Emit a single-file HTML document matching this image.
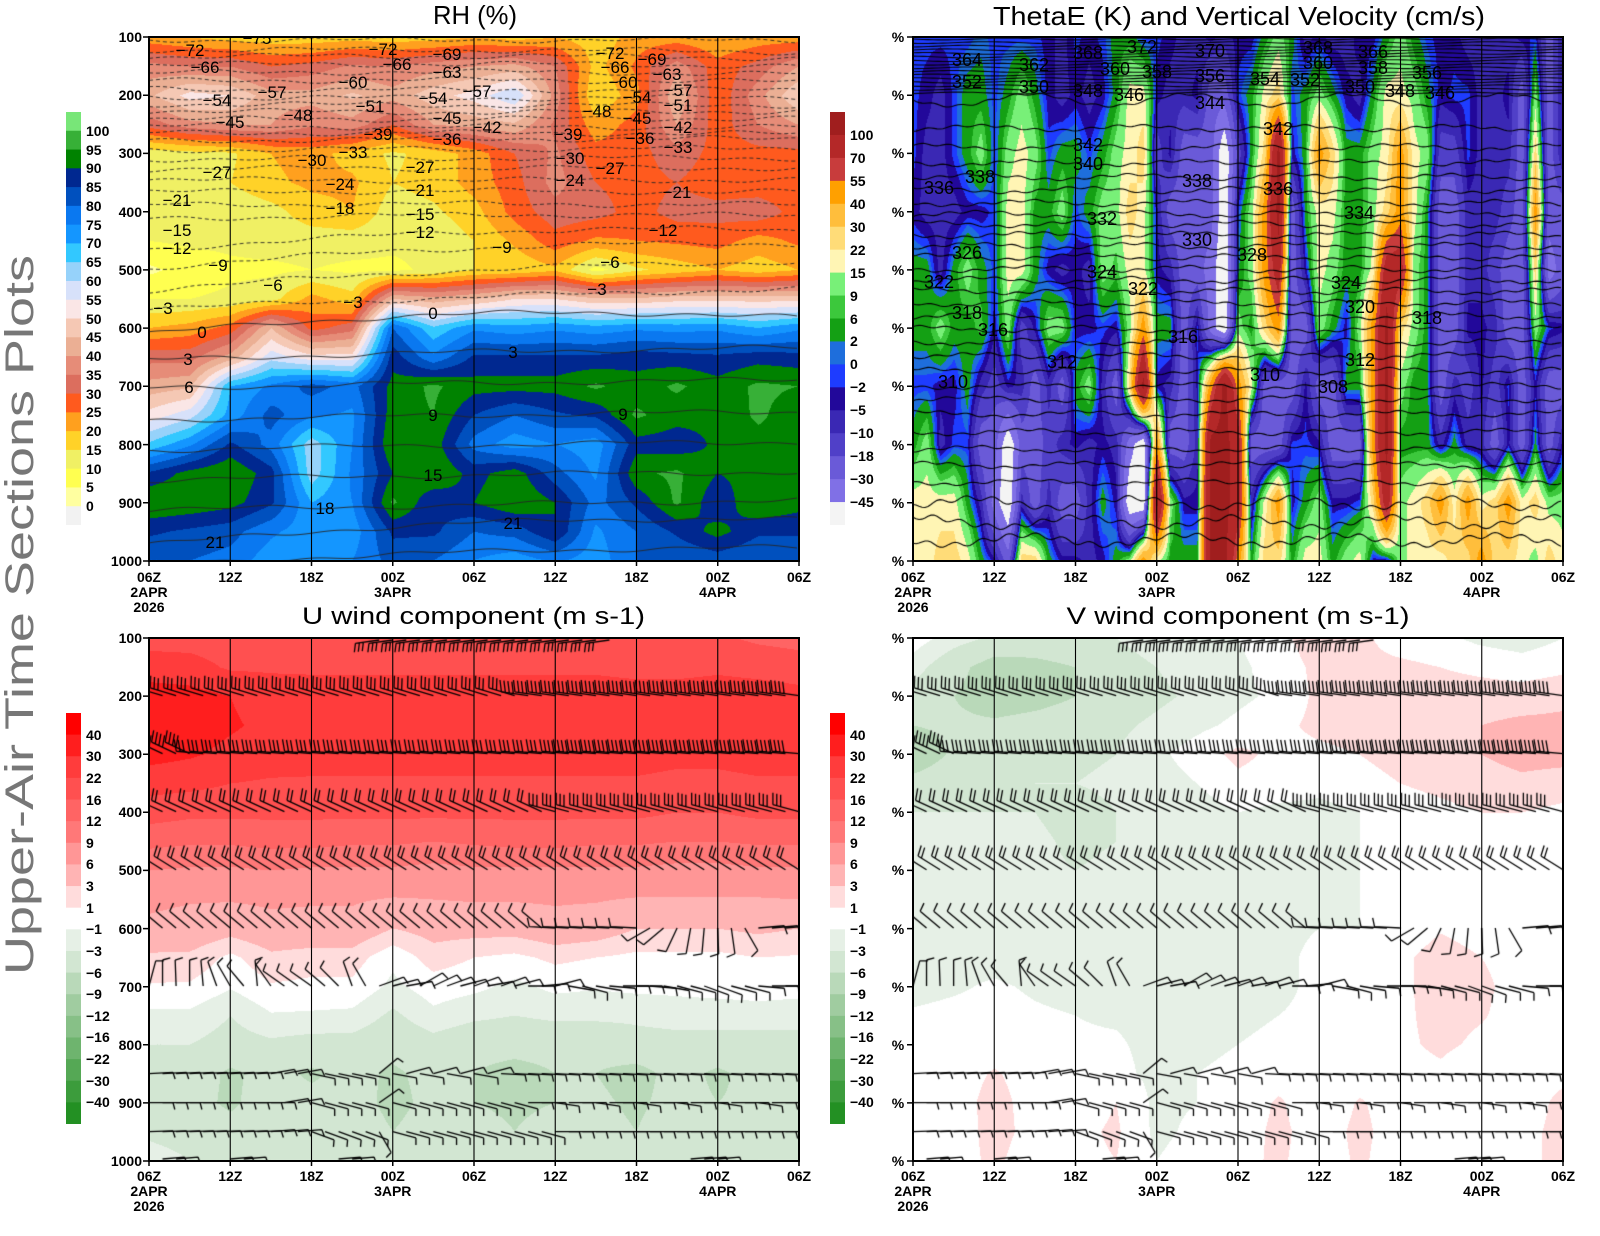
<!DOCTYPE html>
<html><head><meta charset="utf-8">
<style>
html,body{margin:0;padding:0;background:#fff}
body{width:1600px;height:1236px;position:relative;overflow:hidden;font-family:"Liberation Sans",Arial,sans-serif}
canvas{position:absolute;display:block}
svg{position:absolute;left:0;top:0}
.ax{font-family:"Liberation Sans",Arial,sans-serif;font-weight:bold;font-size:14px;fill:#000}
.cl{font-family:"Liberation Sans",Arial,sans-serif;font-size:17px;fill:#000}
.tl{font-family:"Liberation Sans",Arial,sans-serif;font-size:18px;fill:#000}
.tt{font-family:"Liberation Sans",Arial,sans-serif;fill:#000}
</style></head><body>
<canvas id="c1" width="650" height="524" style="left:149px;top:37px;background:linear-gradient(180deg,#ffa01e 0%,#e68c78 6%,#f5c8b4 11%,#e68c78 17%,#ff5a1e 22%,#ffd228 28%,#f0f064 42%,#ffd228 50%,#ff5a1e 54%,#1496ff 58%,#002890 63%,#008200 68%,#0050be 82%,#0a78f0 100%)"></canvas>
<canvas id="c2" width="650" height="524" style="left:913px;top:37px;background:#3a28b4"></canvas>
<canvas id="c3" width="650" height="523" style="left:149px;top:638px;background:linear-gradient(180deg,#ff5050 0%,#ff3c3c 12%,#ff3c3c 35%,#ff6464 42%,#ff9696 52%,#ffb4b4 58%,#ffdcdc 65%,#ffffff 70%,#e6f0e6 75%,#d2e6d2 85%,#e6f0e6 100%)"></canvas>
<canvas id="c4" width="650" height="523" style="left:913px;top:638px;background:#e6f0e6"></canvas>
<svg width="1600" height="1236" viewBox="0 0 1600 1236">
<defs><clipPath id="cp1"><rect x="149" y="37" width="650" height="524"/></clipPath></defs>
<g stroke="#000" stroke-width="1.1">
<line x1="230.25" y1="37" x2="230.25" y2="561"/><line x1="311.5" y1="37" x2="311.5" y2="561"/><line x1="392.75" y1="37" x2="392.75" y2="561"/><line x1="474" y1="37" x2="474" y2="561"/><line x1="555.25" y1="37" x2="555.25" y2="561"/><line x1="636.5" y1="37" x2="636.5" y2="561"/><line x1="717.75" y1="37" x2="717.75" y2="561"/>
<line x1="994.25" y1="37" x2="994.25" y2="561"/><line x1="1075.5" y1="37" x2="1075.5" y2="561"/><line x1="1156.75" y1="37" x2="1156.75" y2="561"/><line x1="1238" y1="37" x2="1238" y2="561"/><line x1="1319.25" y1="37" x2="1319.25" y2="561"/><line x1="1400.5" y1="37" x2="1400.5" y2="561"/><line x1="1481.75" y1="37" x2="1481.75" y2="561"/>
<line x1="230.25" y1="638" x2="230.25" y2="1161"/><line x1="311.5" y1="638" x2="311.5" y2="1161"/><line x1="392.75" y1="638" x2="392.75" y2="1161"/><line x1="474" y1="638" x2="474" y2="1161"/><line x1="555.25" y1="638" x2="555.25" y2="1161"/><line x1="636.5" y1="638" x2="636.5" y2="1161"/><line x1="717.75" y1="638" x2="717.75" y2="1161"/>
<line x1="994.25" y1="638" x2="994.25" y2="1161"/><line x1="1075.5" y1="638" x2="1075.5" y2="1161"/><line x1="1156.75" y1="638" x2="1156.75" y2="1161"/><line x1="1238" y1="638" x2="1238" y2="1161"/><line x1="1319.25" y1="638" x2="1319.25" y2="1161"/><line x1="1400.5" y1="638" x2="1400.5" y2="1161"/><line x1="1481.75" y1="638" x2="1481.75" y2="1161"/>
</g>
<g fill="none" stroke="#000" stroke-width="2">
<rect x="149" y="37" width="650" height="524"/><rect x="913" y="37" width="650" height="524"/>
<rect x="149" y="638" width="650" height="523"/><rect x="913" y="638" width="650" height="523"/>
</g>
<g stroke="#000" stroke-width="1.5">
<path d="M143 37H149M143 95.2H149M143 153.4H149M143 211.7H149M143 269.9H149M143 328.1H149M143 386.3H149M143 444.6H149M143 502.8H149M143 561H149"/>
<path d="M907 37H913M907 95.2H913M907 153.4H913M907 211.7H913M907 269.9H913M907 328.1H913M907 386.3H913M907 444.6H913M907 502.8H913M907 561H913"/>
<path d="M143 638H149M143 696.1H149M143 754.2H149M143 812.3H149M143 870.4H149M143 928.6H149M143 986.7H149M143 1044.8H149M143 1102.9H149M143 1161H149"/>
<path d="M907 638H913M907 696.1H913M907 754.2H913M907 812.3H913M907 870.4H913M907 928.6H913M907 986.7H913M907 1044.8H913M907 1102.9H913M907 1161H913"/>
<path d="M149 561V566M230.25 561V566M311.5 561V566M392.75 561V566M474 561V566M555.25 561V566M636.5 561V566M717.75 561V566M799 561V566"/>
<path d="M913 561V566M994.25 561V566M1075.5 561V566M1156.75 561V566M1238 561V566M1319.25 561V566M1400.5 561V566M1481.75 561V566M1563 561V566"/>
<path d="M149 1161V1166M230.25 1161V1166M311.5 1161V1166M392.75 1161V1166M474 1161V1166M555.25 1161V1166M636.5 1161V1166M717.75 1161V1166M799 1161V1166"/>
<path d="M913 1161V1166M994.25 1161V1166M1075.5 1161V1166M1156.75 1161V1166M1238 1161V1166M1319.25 1161V1166M1400.5 1161V1166M1481.75 1161V1166M1563 1161V1166"/>
</g>
<g class="ax" text-anchor="end">
<text x="142" y="42">100</text><text x="142" y="100">200</text><text x="142" y="158">300</text><text x="142" y="217">400</text><text x="142" y="275">500</text><text x="142" y="333">600</text><text x="142" y="391">700</text><text x="142" y="450">800</text><text x="142" y="508">900</text><text x="142" y="566">1000</text>
<text x="142" y="643">100</text><text x="142" y="701">200</text><text x="142" y="759">300</text><text x="142" y="817">400</text><text x="142" y="875">500</text><text x="142" y="934">600</text><text x="142" y="992">700</text><text x="142" y="1050">800</text><text x="142" y="1108">900</text><text x="142" y="1166">1000</text>
</g>
<g class="ax" text-anchor="middle">
<text x="898" y="42">%</text><text x="898" y="100">%</text><text x="898" y="158">%</text><text x="898" y="217">%</text><text x="898" y="275">%</text><text x="898" y="333">%</text><text x="898" y="391">%</text><text x="898" y="450">%</text><text x="898" y="508">%</text><text x="898" y="566">%</text>
<text x="898" y="643">%</text><text x="898" y="701">%</text><text x="898" y="759">%</text><text x="898" y="817">%</text><text x="898" y="875">%</text><text x="898" y="934">%</text><text x="898" y="992">%</text><text x="898" y="1050">%</text><text x="898" y="1108">%</text><text x="898" y="1166">%</text>
</g>
<g class="ax" text-anchor="middle">
<text x="149" y="582">06Z</text><text x="230.25" y="582">12Z</text><text x="311.5" y="582">18Z</text><text x="392.75" y="582">00Z</text><text x="474" y="582">06Z</text><text x="555.25" y="582">12Z</text><text x="636.5" y="582">18Z</text><text x="717.75" y="582">00Z</text><text x="799" y="582">06Z</text>
<text x="149" y="597">2APR</text><text x="149" y="612">2026</text><text x="392.75" y="597">3APR</text><text x="717.75" y="597">4APR</text>
<text x="913" y="582">06Z</text><text x="994.25" y="582">12Z</text><text x="1075.5" y="582">18Z</text><text x="1156.75" y="582">00Z</text><text x="1238" y="582">06Z</text><text x="1319.25" y="582">12Z</text><text x="1400.5" y="582">18Z</text><text x="1481.75" y="582">00Z</text><text x="1563" y="582">06Z</text>
<text x="913" y="597">2APR</text><text x="913" y="612">2026</text><text x="1156.75" y="597">3APR</text><text x="1481.75" y="597">4APR</text>
<text x="149" y="1181">06Z</text><text x="230.25" y="1181">12Z</text><text x="311.5" y="1181">18Z</text><text x="392.75" y="1181">00Z</text><text x="474" y="1181">06Z</text><text x="555.25" y="1181">12Z</text><text x="636.5" y="1181">18Z</text><text x="717.75" y="1181">00Z</text><text x="799" y="1181">06Z</text>
<text x="149" y="1196">2APR</text><text x="149" y="1211">2026</text><text x="392.75" y="1196">3APR</text><text x="717.75" y="1196">4APR</text>
<text x="913" y="1181">06Z</text><text x="994.25" y="1181">12Z</text><text x="1075.5" y="1181">18Z</text><text x="1156.75" y="1181">00Z</text><text x="1238" y="1181">06Z</text><text x="1319.25" y="1181">12Z</text><text x="1400.5" y="1181">18Z</text><text x="1481.75" y="1181">00Z</text><text x="1563" y="1181">06Z</text>
<text x="913" y="1196">2APR</text><text x="913" y="1211">2026</text><text x="1156.75" y="1196">3APR</text><text x="1481.75" y="1196">4APR</text>
</g>
<text class="tt" x="475" y="24" font-size="26" text-anchor="middle" textLength="84" lengthAdjust="spacingAndGlyphs">RH (%)</text>
<text class="tt" x="1239" y="25" font-size="26" text-anchor="middle" textLength="492" lengthAdjust="spacingAndGlyphs">ThetaE (K) and Vertical Velocity (cm/s)</text>
<text class="tt" x="473.5" y="624" font-size="24" text-anchor="middle" textLength="343" lengthAdjust="spacingAndGlyphs">U wind component (m s-1)</text>
<text class="tt" x="1238" y="624" font-size="24" text-anchor="middle" textLength="343" lengthAdjust="spacingAndGlyphs">V wind component (m s-1)</text>
<text class="tt" transform="translate(33,975) rotate(-90)" x="0" y="0" font-size="40" fill="#777" style="fill:#777" textLength="720" lengthAdjust="spacingAndGlyphs">Upper-Air Time Sections Plots</text>
<g>
<rect x="66" y="112" width="15" height="19.3" fill="#78e678"/><rect x="66" y="130.77" width="15" height="19.3" fill="#37b037"/><rect x="66" y="149.55" width="15" height="19.3" fill="#008200"/><rect x="66" y="168.32" width="15" height="19.3" fill="#002890"/><rect x="66" y="187.09" width="15" height="19.3" fill="#0050be"/><rect x="66" y="205.86" width="15" height="19.3" fill="#0a78f0"/><rect x="66" y="224.64" width="15" height="19.3" fill="#1496ff"/><rect x="66" y="243.41" width="15" height="19.3" fill="#32c8ff"/><rect x="66" y="262.18" width="15" height="19.3" fill="#96d2fa"/><rect x="66" y="280.95" width="15" height="19.3" fill="#d7e1fa"/><rect x="66" y="299.73" width="15" height="19.3" fill="#fae6e6"/><rect x="66" y="318.5" width="15" height="19.3" fill="#f5c8b4"/><rect x="66" y="337.27" width="15" height="19.3" fill="#ebaf94"/><rect x="66" y="356.05" width="15" height="19.3" fill="#e68c78"/><rect x="66" y="374.82" width="15" height="19.3" fill="#dc6e5e"/><rect x="66" y="393.59" width="15" height="19.3" fill="#ff5a1e"/><rect x="66" y="412.36" width="15" height="19.3" fill="#ffa01e"/><rect x="66" y="431.14" width="15" height="19.3" fill="#ffd228"/><rect x="66" y="449.91" width="15" height="19.3" fill="#f0f064"/><rect x="66" y="468.68" width="15" height="19.3" fill="#ffff50"/><rect x="66" y="487.45" width="15" height="19.3" fill="#ffffa0"/><rect x="66" y="506.23" width="15" height="18.8" fill="#f2f2f2"/>
</g>
<g class="ax">
<text x="86" y="136">100</text><text x="86" y="155">95</text><text x="86" y="173">90</text><text x="86" y="192">85</text><text x="86" y="211">80</text><text x="86" y="230">75</text><text x="86" y="248">70</text><text x="86" y="267">65</text><text x="86" y="286">60</text><text x="86" y="305">55</text><text x="86" y="324">50</text><text x="86" y="342">45</text><text x="86" y="361">40</text><text x="86" y="380">35</text><text x="86" y="399">30</text><text x="86" y="417">25</text><text x="86" y="436">20</text><text x="86" y="455">15</text><text x="86" y="474">10</text><text x="86" y="492">5</text><text x="86" y="511">0</text>
</g>
<g>
<rect x="830" y="112" width="15" height="23.4" fill="#a01e1e"/><rect x="830" y="134.94" width="15" height="23.4" fill="#b42828"/><rect x="830" y="157.89" width="15" height="23.4" fill="#c83c3c"/><rect x="830" y="180.83" width="15" height="23.4" fill="#ffa000"/><rect x="830" y="203.78" width="15" height="23.4" fill="#ffbe3c"/><rect x="830" y="226.72" width="15" height="23.4" fill="#ffdc78"/><rect x="830" y="249.67" width="15" height="23.4" fill="#fff5b4"/><rect x="830" y="272.61" width="15" height="23.4" fill="#78f078"/><rect x="830" y="295.56" width="15" height="23.4" fill="#3cc83c"/><rect x="830" y="318.5" width="15" height="23.4" fill="#14a014"/><rect x="830" y="341.44" width="15" height="23.4" fill="#1e6edc"/><rect x="830" y="364.39" width="15" height="23.4" fill="#1e3cff"/><rect x="830" y="387.33" width="15" height="23.4" fill="#22089a"/><rect x="830" y="410.28" width="15" height="23.4" fill="#3a28b4"/><rect x="830" y="433.22" width="15" height="23.4" fill="#5040c8"/><rect x="830" y="456.17" width="15" height="23.4" fill="#6a5ad8"/><rect x="830" y="479.11" width="15" height="23.4" fill="#8070e6"/><rect x="830" y="502.06" width="15" height="22.94" fill="#f4f4f4"/>
</g>
<g class="ax">
<text x="850" y="140">100</text><text x="850" y="163">70</text><text x="850" y="186">55</text><text x="850" y="209">40</text><text x="850" y="232">30</text><text x="850" y="255">22</text><text x="850" y="278">15</text><text x="850" y="301">9</text><text x="850" y="324">6</text><text x="850" y="346">2</text><text x="850" y="369">0</text><text x="850" y="392">−2</text><text x="850" y="415">−5</text><text x="850" y="438">−10</text><text x="850" y="461">−18</text><text x="850" y="484">−30</text><text x="850" y="507">−45</text>
</g>
<g>
<rect x="66" y="713" width="15" height="22.1" fill="#ff0000"/><rect x="66" y="734.63" width="15" height="22.1" fill="#ff1e1e"/><rect x="66" y="756.26" width="15" height="22.1" fill="#ff3c3c"/><rect x="66" y="777.9" width="15" height="22.1" fill="#ff5050"/><rect x="66" y="799.53" width="15" height="22.1" fill="#ff6464"/><rect x="66" y="821.16" width="15" height="22.1" fill="#ff7878"/><rect x="66" y="842.79" width="15" height="22.1" fill="#ff9696"/><rect x="66" y="864.42" width="15" height="22.1" fill="#ffb4b4"/><rect x="66" y="886.06" width="15" height="22.1" fill="#ffdcdc"/><rect x="66" y="907.69" width="15" height="22.1" fill="#ffffff"/><rect x="66" y="929.32" width="15" height="22.1" fill="#e6f0e6"/><rect x="66" y="950.95" width="15" height="22.1" fill="#d2e6d2"/><rect x="66" y="972.58" width="15" height="22.1" fill="#b9d9b9"/><rect x="66" y="994.22" width="15" height="22.1" fill="#a0cca0"/><rect x="66" y="1015.85" width="15" height="22.1" fill="#87c087"/><rect x="66" y="1037.48" width="15" height="22.1" fill="#6eb46e"/><rect x="66" y="1059.11" width="15" height="22.1" fill="#55a855"/><rect x="66" y="1080.74" width="15" height="22.1" fill="#3c9c3c"/><rect x="66" y="1102.38" width="15" height="21.62" fill="#239023"/>
</g>
<g class="ax">
<text x="86" y="740">40</text><text x="86" y="761">30</text><text x="86" y="783">22</text><text x="86" y="805">16</text><text x="86" y="826">12</text><text x="86" y="848">9</text><text x="86" y="869">6</text><text x="86" y="891">3</text><text x="86" y="913">1</text><text x="86" y="934">−1</text><text x="86" y="956">−3</text><text x="86" y="978">−6</text><text x="86" y="999">−9</text><text x="86" y="1021">−12</text><text x="86" y="1042">−16</text><text x="86" y="1064">−22</text><text x="86" y="1086">−30</text><text x="86" y="1107">−40</text>
</g>
<g>
<rect x="830" y="713" width="15" height="22.1" fill="#ff0000"/><rect x="830" y="734.63" width="15" height="22.1" fill="#ff1e1e"/><rect x="830" y="756.26" width="15" height="22.1" fill="#ff3c3c"/><rect x="830" y="777.9" width="15" height="22.1" fill="#ff5050"/><rect x="830" y="799.53" width="15" height="22.1" fill="#ff6464"/><rect x="830" y="821.16" width="15" height="22.1" fill="#ff7878"/><rect x="830" y="842.79" width="15" height="22.1" fill="#ff9696"/><rect x="830" y="864.42" width="15" height="22.1" fill="#ffb4b4"/><rect x="830" y="886.06" width="15" height="22.1" fill="#ffdcdc"/><rect x="830" y="907.69" width="15" height="22.1" fill="#ffffff"/><rect x="830" y="929.32" width="15" height="22.1" fill="#e6f0e6"/><rect x="830" y="950.95" width="15" height="22.1" fill="#d2e6d2"/><rect x="830" y="972.58" width="15" height="22.1" fill="#b9d9b9"/><rect x="830" y="994.22" width="15" height="22.1" fill="#a0cca0"/><rect x="830" y="1015.85" width="15" height="22.1" fill="#87c087"/><rect x="830" y="1037.48" width="15" height="22.1" fill="#6eb46e"/><rect x="830" y="1059.11" width="15" height="22.1" fill="#55a855"/><rect x="830" y="1080.74" width="15" height="22.1" fill="#3c9c3c"/><rect x="830" y="1102.38" width="15" height="21.62" fill="#239023"/>
</g>
<g class="ax">
<text x="850" y="740">40</text><text x="850" y="761">30</text><text x="850" y="783">22</text><text x="850" y="805">16</text><text x="850" y="826">12</text><text x="850" y="848">9</text><text x="850" y="869">6</text><text x="850" y="891">3</text><text x="850" y="913">1</text><text x="850" y="934">−1</text><text x="850" y="956">−3</text><text x="850" y="978">−6</text><text x="850" y="999">−9</text><text x="850" y="1021">−12</text><text x="850" y="1042">−16</text><text x="850" y="1064">−22</text><text x="850" y="1086">−30</text><text x="850" y="1107">−40</text>
</g>
<g class="cl" text-anchor="middle">
<text x="257" y="44" clip-path="url(#cp1)">−75</text>
<text x="190" y="56">−72</text><text x="205" y="73">−66</text><text x="217" y="106">−54</text><text x="272" y="98">−57</text><text x="230" y="128">−45</text><text x="298" y="121">−48</text><text x="353" y="88">−60</text><text x="370" y="112">−51</text><text x="383" y="55">−72</text><text x="397" y="70">−66</text><text x="378" y="140">−39</text><text x="353" y="158">−33</text><text x="312" y="166">−30</text><text x="217" y="178">−27</text><text x="340" y="190">−24</text><text x="177" y="206">−21</text><text x="340" y="214">−18</text><text x="177" y="236">−15</text><text x="177" y="254">−12</text><text x="218" y="271">−9</text><text x="273" y="291">−6</text><text x="163" y="314">−3</text><text x="353" y="308">−3</text><text x="202" y="338">0</text><text x="188" y="365">3</text><text x="189" y="393">6</text><text x="325" y="514">18</text><text x="215" y="548">21</text>
<text x="447" y="60">−69</text><text x="447" y="78">−63</text><text x="433" y="104">−54</text><text x="477" y="97">−57</text><text x="447" y="124">−45</text><text x="447" y="145">−36</text><text x="487" y="133">−42</text><text x="420" y="173">−27</text><text x="420" y="196">−21</text><text x="420" y="220">−15</text><text x="420" y="238">−12</text><text x="502" y="253">−9</text><text x="433" y="319">0</text><text x="513" y="358">3</text><text x="433" y="421">9</text><text x="433" y="481">15</text><text x="513" y="529">21</text>
<text x="610" y="59">−72</text><text x="615" y="73">−66</text><text x="623" y="88">−60</text><text x="637" y="103">−54</text><text x="597" y="117">−48</text><text x="637" y="124">−45</text><text x="568" y="140">−39</text><text x="640" y="144">−36</text><text x="570" y="164">−30</text><text x="610" y="174">−27</text><text x="570" y="186">−24</text><text x="652" y="65">−69</text><text x="667" y="80">−63</text><text x="678" y="96">−57</text><text x="678" y="111">−51</text><text x="678" y="133">−42</text><text x="678" y="153">−33</text><text x="677" y="198">−21</text><text x="663" y="236">−12</text><text x="610" y="268">−6</text><text x="597" y="295">−3</text><text x="623" y="420">9</text>
</g>
<g class="tl" text-anchor="middle">
<text x="967" y="66">364</text><text x="967" y="88">352</text><text x="1034" y="71">362</text><text x="1034" y="93">350</text><text x="1088" y="59">368</text><text x="1115" y="75">360</text><text x="1088" y="97">348</text><text x="1129" y="101">346</text><text x="1142" y="53">372</text><text x="1157" y="78">358</text><text x="1088" y="151">342</text><text x="1088" y="170">340</text><text x="980" y="183">338</text><text x="939" y="194">336</text><text x="1102" y="225">332</text><text x="967" y="259">326</text><text x="1102" y="278">324</text><text x="939" y="288">322</text><text x="1143" y="295">322</text><text x="967" y="319">318</text><text x="993" y="336">316</text><text x="1062" y="368">312</text><text x="953" y="388">310</text><text x="1183" y="343">316</text>
<text x="1210" y="57">370</text><text x="1210" y="82">356</text><text x="1210" y="109">344</text><text x="1318" y="54">368</text><text x="1318" y="69">360</text><text x="1265" y="85">354</text><text x="1305" y="86">352</text><text x="1373" y="58">366</text><text x="1373" y="74">358</text><text x="1360" y="93">350</text><text x="1400" y="97">348</text><text x="1427" y="79">356</text><text x="1440" y="99">346</text><text x="1278" y="135">342</text><text x="1278" y="195">336</text><text x="1359" y="219">334</text><text x="1252" y="261">328</text><text x="1346" y="289">324</text><text x="1265" y="381">310</text><text x="1333" y="393">308</text><text x="1360" y="313">320</text><text x="1360" y="366">312</text><text x="1427" y="324">318</text><text x="1197" y="246">330</text><text x="1197" y="187">338</text>
</g>
</svg>
<script>
(function(){
function hex(h){return [parseInt(h.slice(1,3),16),parseInt(h.slice(3,5),16),parseInt(h.slice(5,7),16)];}
function fill(id,grid,TH,COL){
  var cv=document.getElementById(id),ctx=cv.getContext('2d'),W=cv.width,H=cv.height;
  var img=ctx.createImageData(W,H),d=img.data,ny=grid.length,nx=grid[0].length;
  var cols=COL.map(hex);
  for(var py=0;py<H;py++){
    var fy=py/(H-1)*(ny-1),j=Math.floor(fy);if(j>=ny-1)j=ny-2;var wy=fy-j,r0=grid[j],r1=grid[j+1];
    for(var px=0;px<W;px++){
      var fx=px/(W-1)*(nx-1),i=Math.floor(fx);if(i>=nx-1)i=nx-2;var wx=fx-i;
      var v=(r0[i]*(1-wx)+r0[i+1]*wx)*(1-wy)+(r1[i]*(1-wx)+r1[i+1]*wx)*wy;
      var k=0;while(k<TH.length&&v>=TH[k])k++;
      var c=cols[k],o=(py*W+px)*4;d[o]=c[0];d[o+1]=c[1];d[o+2]=c[2];d[o+3]=255;
    }
  }
  ctx.putImageData(img,0,0);
  return ctx;
}
function lerp3(a,b,c,x){return a*(1-x)*(1-2*x)+b*4*x*(1-x)+c*x*(2*x-1);}

var RH=[
[22,20,18,17,17,18,17,18,20,18,20,17,22,22,20,22,22],
[37,35,35,30,32,36,35,38,40,42,35,18,26,38,27,32,40],
[44,52,50,42,42,46,42,48,52,60,38,15,23,45,26,38,50],
[32,38,40,40,36,38,30,40,42,44,34,22,27,40,27,35,40],
[12,13,14,20,22,18,14,17,22,30,36,27,28,33,28,28,28],
[11,12,15,19,21,21,15,17,22,28,37,30,28,30,27,27,27],
[13,11,11,13,18,20,12,14,18,27,33,32,28,32,32,33,28],
[10,11,11,12,12,12,11,11,15,21,28,24,25,26,27,23,26],
[4,7,9,9,10,9,9,11,15,16,19,8,14,17,20,17,20],
[10,10,11,13,22,17,45,42,45,50,50,46,46,48,48,48,48],
[20,22,27,45,28,33,80,66,74,72,74,72,74,73,74,70,74],
[33,33,42,58,52,52,88,76,86,86,86,86,88,87,86,88,87],
[42,44,70,76,82,78,92,96,92,92,92,96,92,96,92,96,95],
[52,58,72,82,76,74,93,95,85,80,84,86,96,92,91,96,92],
[66,74,86,78,62,75,95,93,78,72,75,72,88,87,91,93,95],
[86,92,95,87,62,76,90,95,88,93,82,74,94,96,90,92,90],
[95,94,92,86,70,75,96,86,90,95,90,78,86,96,86,95,92],
[86,84,82,76,72,72,86,86,80,82,90,74,80,86,92,86,86],
[80,80,78,72,70,75,82,80,75,72,76,72,80,80,82,80,80]];
var RH_T=[0,5,10,15,20,25,30,35,40,45,50,55,60,65,70,75,80,85,90,95,100];
var RH_C=['#f2f2f2','#ffffa0','#ffff50','#f0f064','#ffd228','#ffa01e','#ff5a1e','#dc6e5e','#e68c78','#ebaf94','#f5c8b4','#fae6e6','#d7e1fa','#96d2fa','#32c8ff','#1496ff','#0a78f0','#0050be','#002890','#008200','#37b037','#78e678'];
var c1=fill('c1',RH,RH_T,RH_C);
var TL=[[-75,40,40,40],[-72,50,50,52],[-69,57,56,58],[-66,65,64,66],[-63,73,72,74],[-60,81,80,82],[-57,89,90,90],[-54,97,98,97],[-51,104,105,105],[-48,111,112,111],[-45,119,119,118],[-42,126,127,127],[-39,133,133,134],[-36,141,139,139],[-33,150,149,148],[-30,159,158,158],[-27,169,168,168],[-24,180,180,180],[-21,192,191,192],[-18,205,204,205],[-15,219,215,216],[-12,250,232,230],[-9,268,248,244],[-6,290,270,262],[-3,309,297,289],[0,334,314,318],[3,360,352,348],[6,388,383,380],[9,420,415,412],[12,450,445,442],[15,480,475,472],[18,510,505,500],[21,545,523,520],[24,566,552,548]];
c1.strokeStyle='#262626';c1.lineWidth=0.9;
TL.forEach(function(r,idx){
  c1.setLineDash(r[0]<0?[4,3]:[]);
  c1.beginPath();
  for(var x=0;x<=650;x+=4){
    var y=lerp3(r[1],r[2],r[3],x/650)-37+Math.sin(x*0.07+idx*1.7)*1.4+Math.sin(x*0.021+idx*0.9)*1.8;
    if(x===0)c1.moveTo(x,y);else c1.lineTo(x,y);
  }
  c1.stroke();
});
c1.setLineDash([]);

var WM={R:110,M:85,m:62,O:47,o:35,Y:26,y:18,L:12,g:7.5,G:4,b:1,B:-1,n:-3.5,N:-7,p:-14,P:-24,q:-37,W:-60};
var WS=["BBBnGGBGyy","BnNNGGBLyy","BNNNNLnNyY","BBBNGGnByY","BGGnLGGBGy","bGLnGgNPNG","BBBBBnpPqn","BGLyyLnWWP","BLyyypNPNY","BGLGGnPPPY",
"nnBGnLNpNG","NNGLNLPNPn","BnGBnnGnPn","nNBGNnLNNN","BnGLLBNnGn","GGLLgnPNnG","GyyYyLYqWL","ByYyyORWWO","BnpnnGnORy","nNnPNGNPLG",
"NNPPPPPPnG","NnPPPBnNnG","nPPPqqORRR","NPWWWWRRRR","nBpBbLOMMO","nGGLLGyPNG","GyYOOYPPyY","LYRRMOPPOY","GBnPPPPBnG","NGGGnPnBGy",
"nLOyyLPnLy","NGYyLGPPnG","NnGGGnGPnL","nNGGGLGPBy","nGLLyOOOYn","GyyYMRRRMn","LyOOMYLGLL","GLyyLLGGyy","BGLGGGGGYy","nnpPPPPNOy",
"nBpPPPNGyY","NBBNNnpNOY","NNNNNnnNyO","NNNNpNpPYY","NnNpPPBnOY","nPPPPPPPyy","BLYOYLnGYL","PPPPqBPPLY","nnnPPnPnLy"];
var WG=[];for(var j=0;j<10;j++){var row=[];for(var t=0;t<49;t++){row.push(WM[WS[t].charAt(j)]);}WG.push(row);}
var W_T=[-45,-30,-18,-10,-5,-2,0,2,6,9,15,22,30,40,55,70,100];
var W_C=['#f4f4f4','#8070e6','#6a5ad8','#5040c8','#3a28b4','#22089a','#1e3cff','#1e6edc','#14a014','#3cc83c','#78f078','#fff5b4','#ffdc78','#ffbe3c','#ffa000','#c83c3c','#b42828','#a01e1e'];
var c2=fill('c2',WG,W_T,W_C);
c2.strokeStyle='#000';c2.lineWidth=1.1;
for(var k=0;k<16;k++){var y0=39+k*3.6-37;c2.beginPath();for(var x=0;x<=650;x+=5){var y=y0+Math.sin(x*0.05+k)*0.9;if(x===0)c2.moveTo(x,y);else c2.lineTo(x,y);}c2.stroke();}
var TLs=[100,128,147,163,177,190,203,214,224,235,246,257,269,280,291,303,316,329,342,356,371,386,399,414,432,449,465,482,503,522,540];
TLs.forEach(function(y0,k){
  var slow=(k===0)?6:(k>=28?5:2.5), fast=(k>=28?2.5:1.2);
  c2.beginPath();
  for(var x=0;x<=650;x+=3){var y=y0-37+Math.sin(x*0.2325+k*1.3)*fast+Math.sin(x*0.04+k*2.1)*slow;if(x===0)c2.moveTo(x,y);else c2.lineTo(x,y);}
  c2.stroke();
});

var U=[
[19,19,18,18,18,18,18,18,18,17,17,17,16,16,17,15,14],
[26,25,21,21,21,21,21,21,21,21,21,21,20,20,21,20,19],
[34,33,30,26,25,25,25,25,25,25,25,25,25,25,25,25,24],
[36,34,31,28,27,27,27,27,27,27,27,27,27,27,27,27,26],
[33,31,28,26,25,25,25,25,25,25,25,25,25,24,24,25,25],
[25,24,22,21,21,21,21,21,21,21,21,21,21,20,20,21,21],
[18,17,17,17,17,17,17,17,17,17,17,17,17,16,16,17,17],
[13,12.5,12.5,13,13,12.5,12.5,12,12.5,13,13,12.5,12.5,12,12,12.5,12.5],
[9,8.5,8.5,9,8.5,8.5,8.5,8,8.5,8.5,8.5,8.5,8.5,8,8,8.5,8.5],
[6.5,6.2,6.2,6.5,6.3,6.3,5.8,6,6.2,6.2,6.3,6.2,5.8,5.8,5.8,5.8,6],
[5.5,5,4,5,5,5,3,4,4,4,5,4.5,3,3,3,3.5,3],
[2.5,2.5,0.5,2.5,2,2,-0.5,2,1,0.5,1.5,1,0.5,0.5,0.5,1,0.8],
[0.8,0.7,-0.8,0.8,0.5,0.5,-1.5,0,-0.5,-1.5,-0.5,-0.8,-0.5,-0.5,-0.3,0,-0.3],
[-1.5,-1.5,-3,-1.2,-1.3,-1.5,-3.5,-1.5,-2.5,-3,-2.5,-2.5,-2.5,-2,-2,-2,-2],
[-3,-3,-4,-3.5,-4,-4,-5,-4,-5,-5,-5,-5,-4,-4,-4,-4,-4],
[-4,-4.5,-6.5,-5,-6.5,-5,-6.5,-5,-6,-7,-6,-6,-7,-5,-6.5,-5,-5],
[-4,-5,-6.5,-4.5,-5,-4.5,-7,-5,-6,-6.5,-6,-5.5,-6.5,-5,-6,-5.5,-5],
[-3.5,-4,-5,-4,-4,-4,-6,-4.5,-5,-6,-5,-5,-6,-4.5,-5,-4.5,-4],
[-2,-3,-3.5,-3,-3,-3,-4,-3,-4,-4,-3.5,-3.5,-4,-3,-3.5,-3,-3]];
var V=[
[0,-2,-3.5,-4,-3.5,-3,-2,-1.5,-1,0.5,2,1.5,0,-0.5,-1.5,-2,-1],
[-2,-5,-7.5,-7,-6,-4,-3,-2,-1.5,0,1.5,1.5,1.5,1,0.5,0,0.5],
[-4,-6,-7.5,-7,-6,-4.5,-3.5,-2.5,-1.5,-0.5,1.5,2,2,2,2,2,2.5],
[-6,-5.5,-5.5,-5,-4.5,-3.5,-2.5,-1.5,-0.5,0.5,1.5,2,2.5,2.5,3,3.5,3.5],
[-8,-5.5,-4.5,-4,-3.5,-3,-1.5,0,1.5,0.5,0.5,1,2,2.5,3,3.8,3.8],
[-5,-4,-3.5,-3,-3,-2.5,-2,-1,0.5,0,-0.5,0,1,1.5,2,2.5,2],
[-3,-3,-3,-3,-4,-3,-2.5,-2,-1,-1.5,-1.5,-1,0,0.5,1,1,0.5],
[-2.5,-2.5,-2.5,-2.5,-3.5,-3,-2.5,-2,-1.5,-1.5,-1.5,-1,-0.5,0,0.5,0.5,0],
[-2,-2,-2,-2.5,-3,-2.5,-2,-1.5,-1.5,-1.5,-1.5,-1,-1,-0.5,0,0,-0.5],
[-1.5,-2,-2,-2.5,-2.5,-2,-2,-2,-1.5,-1.5,-1.2,-1,-0.8,0,-0.5,-0.5,-0.5],
[-1.5,-2,-2,-2,-2.5,-2,-2,-2,-1.5,-1.5,-1,-1,-0.5,0.8,0,-0.5,-0.5],
[-1.5,-1.5,-1.5,-2,-2.5,-2.5,-2,-3,-2,-1.5,-0.5,0,0.5,2,1,0,0],
[-1.5,-1.2,-0.8,-1.2,-1.5,-2,-2,-3,-2,-1.5,-0.5,0,0.5,2,1.5,0,1],
[-0.8,-0.6,-0.5,-0.8,-1,-1.2,-1.5,-2,-1.5,-1,-0.5,0,0.5,1.8,1.2,0,0.5],
[-0.8,-0.5,0,-0.5,-0.8,-0.8,-1.5,-1.5,-1,-0.5,0,0,0.5,1.5,0.5,0,0.8],
[-0.5,0,1.2,0,-0.5,-0.5,-1.5,-1,-0.5,0,-0.5,0,0,0.5,-1,0,0.5],
[0,0,1.8,0,0,1,-1.5,-1,-0.5,1.3,-0.5,1.2,0,-0.5,-1,0,1.5],
[0,-0.5,2,0,0.5,1.3,-1.5,-0.5,0,1.5,0,1.5,0,-0.5,-0.5,0.5,1.5],
[0,0,1.5,-0.5,0.5,1,-1,0,0.5,1.3,0,1.3,0,0,0.5,0.5,1.5]];
var U_T=[-40,-30,-22,-16,-12,-9,-6,-3,-1,1,3,6,9,12,16,22,30,40];
var U_C=['#239023','#3c9c3c','#55a855','#6eb46e','#87c087','#a0cca0','#b9d9b9','#d2e6d2','#e6f0e6','#ffffff','#ffdcdc','#ffb4b4','#ff9696','#ff7878','#ff6464','#ff5050','#ff3c3c','#ff1e1e','#ff0000'];
var c3=fill('c3',U,U_T,U_C);
var c4=fill('c4',V,U_T,U_C);

var A700a=[285,270,268,270,265,250,240,230,265,235,215,215,215,220,225,250,240];
var A700b=[-20,-15,-10,-30,-25,-20,-15,-20,-10,-20,-15,0,-5,-15,10,15,10,5,0,0,5,10,15,15,20,20,15,15,5,0,0,0];
function p600(t){if(t<30)return[220,1];if(t<37)return[183,1];var m={37:150,38:140,39:115,40:100,41:95,42:88,43:82,44:60};if(m[t]!==undefined)return[m[t],1];return[-5,1];}
var ROWS=[
{y:2,L:24,F:9,s:-1,f:function(t){return(t>=17&&t<=34)?[172,3]:null;}},
{y:57.7,L:27,F:12,s:1,f:function(t){return t<28?[197,3]:[188,4];}},
{y:115.6,L:27,F:12,s:1,f:function(t){return t<4?[205,4]:[185,(t>30?4:3)];}},
{y:173.7,L:27,F:12,s:1,f:function(t){return t<30?[205,2]:[195,3];}},
{y:231.8,L:26,F:11,s:1,f:function(t){return[212,2];}},
{y:290,L:26,F:9,s:1,f:p600},
{y:348,L:26,F:8,s:1,f:function(t){return[t<17?A700a[t]:A700b[t-17],1];}},
{y:435.6,L:24,F:7,s:1,f:function(t){if(t<=8)return[-3,1];if(t<=11)return[-10,1];if(t<=16)return[12,1];if(t===17)return[-40,1];if(t<=25)return[(t%2?-15:10),1];return[3,1];}},
{y:464.7,L:24,F:7,s:1,f:function(t){if(t<=9)return[0,1];if(t<=11)return[-10,1];if(t<=16)return[15,1];if(t===17)return[-35,1];if(t<=27)return[15,1];return[(t%3===0?8:0),1];}},
{y:493.7,L:24,F:7,s:1,f:function(t){if(t<=8)return[-2,1];if(t<=11)return[-5,1];if(t<=16)return[20,1];if(t===17)return[60,1];if(t<=29)return[15,1];return[0,1];}},
{y:521,L:22,F:6,s:1,f:function(t){return([1,2,6,7,14,15,40,41,42].indexOf(t)>=0)?[-5,1]:null;}}
];
function barbs(ctx){
  ctx.strokeStyle='#000';ctx.lineWidth=1.3;ctx.setLineDash([]);
  ROWS.forEach(function(r){
    for(var t=0;t<=48;t++){
      var v=r.f(t);if(!v)continue;
      var x=t*650/48,y=r.y,a=v[0]*Math.PI/180,dx=Math.cos(a),dy=Math.sin(a);
      var ex=x+r.L*dx,ey=y+r.L*dy,fa=a+r.s*75*Math.PI/180,fx=Math.cos(fa),fy=Math.sin(fa);
      ctx.beginPath();ctx.moveTo(x,y);ctx.lineTo(ex,ey);
      for(var i=0;i<v[1];i++){var px=ex-dx*i*4,py=ey-dy*i*4;ctx.moveTo(px,py);ctx.lineTo(px+r.F*fx,py+r.F*fy);}
      ctx.stroke();
    }
  });
}
barbs(c3);barbs(c4);
})();
</script>
</body></html>
